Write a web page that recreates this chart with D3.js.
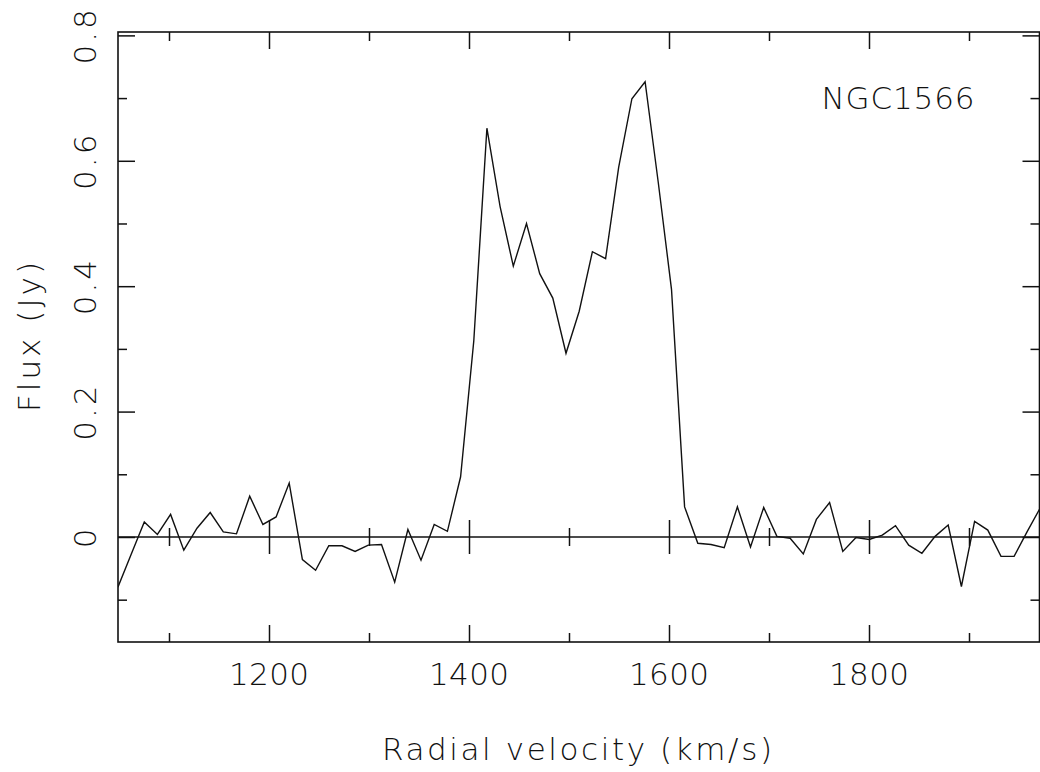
<!DOCTYPE html>
<html>
<head>
<meta charset="utf-8">
<script src="https://cdn.jsdelivr.net/npm/d3@7"></script>
<style>
  body { margin: 0; background: #fff; }
  svg text { font-family: "DejaVu Sans", "Liberation Sans", sans-serif; font-weight: 200; fill: #111; }
</style>
</head>
<body>
<div id="chart"></div>
<script>

// channel velocities (km/s)
const velocity = [
  1048.9, 1062.1, 1075.3, 1088.4, 1101.6, 1114.8, 1128.0, 1141.2, 1154.3, 1167.5,
  1180.7, 1193.9, 1207.1, 1220.2, 1233.4, 1246.6, 1259.8, 1273.0, 1286.1, 1299.3,
  1312.5, 1325.7, 1338.9, 1352.0, 1365.2, 1378.4, 1391.6, 1404.8, 1417.9, 1431.1,
  1444.3, 1457.5, 1470.7, 1483.8, 1497.0, 1510.2, 1523.4, 1536.6, 1549.7, 1562.9,
  1576.1, 1589.3, 1602.5, 1615.6, 1628.8, 1642.0, 1655.2, 1668.4, 1681.5, 1694.7,
  1707.9, 1721.1, 1734.3, 1747.4, 1760.6, 1773.8, 1787.0, 1800.2, 1813.3, 1826.5,
  1839.7, 1852.9, 1866.1, 1879.2, 1892.4, 1905.6, 1918.8, 1932.0, 1945.1, 1958.3,
  1971.5
];

// flux density (Jy)
const flux = [
  -0.080, -0.028, 0.024, 0.004, 0.036, -0.021, 0.014, 0.039, 0.008, 0.005,
  0.065, 0.020, 0.032, 0.086, -0.036, -0.053, -0.014, -0.014, -0.023, -0.013,
  -0.012, -0.072, 0.012, -0.037, 0.020, 0.009, 0.096, 0.313, 0.652, 0.527,
  0.432, 0.500, 0.420, 0.381, 0.293, 0.360, 0.455, 0.444, 0.590, 0.699,
  0.726, 0.565, 0.395, 0.048, -0.010, -0.012, -0.017, 0.048, -0.016, 0.047,
  0.001, -0.002, -0.027, 0.028, 0.055, -0.023, -0.001, -0.004, 0.003, 0.018,
  -0.013, -0.026, 0.001, 0.019, -0.079, 0.025, 0.011, -0.031, -0.031, 0.009,
  0.047
];

const xMajor = [1200, 1400, 1600, 1800];
const xMinor = [1100, 1300, 1500, 1700, 1900];
const yMajor = [0, 0.2, 0.4, 0.6, 0.8];
const yMinor = [-0.1, 0.1, 0.3, 0.5, 0.7];

const objectName = "NGC1566";
const xTitle = "Radial velocity (km/s)";
const yTitle = "Flux (Jy)";

const width = 1040, height = 772;
const margin = {left: 118, right: 0.5, top: 32, bottom: 130};

const data = velocity.map((v, i) => ({v: v, f: flux[i]}));

let svg = d3.select("#chart")
  .append("svg")
  .attr("width", width)
  .attr("height", height);

let xScale = d3.scaleLinear()
  .domain([1049, 1970.5])
  .range([margin.left, width - margin.right]);

let yScale = d3.scaleLinear()
  .domain([-0.1675, 0.8054])
  .range([height - margin.bottom, margin.top]);

const x0 = xScale.range()[0], x1 = xScale.range()[1];
const y0 = yScale.range()[0], y1 = yScale.range()[1];

// clip for the spectrum
svg.append("clipPath").attr("id", "clip")
  .append("rect")
  .attr("x", x0).attr("y", y1)
  .attr("width", x1 - x0).attr("height", y0 - y1);

// ticks, all pointing inwards
function ticks(axis, vals, size, transform) {
  let g = svg.append("g")
    .attr("transform", transform)
    .call(axis.tickValues(vals).tickSize(size).tickFormat(""));
  g.select(".domain").remove();
  g.selectAll("line").attr("stroke", "#111").attr("stroke-width", 1.5);
  return g;
}

ticks(d3.axisBottom(xScale), xMajor, -17, `translate(0,${y0})`);
ticks(d3.axisBottom(xScale), xMinor, -9, `translate(0,${y0})`);
ticks(d3.axisTop(xScale), xMajor, -17, `translate(0,${y1})`);
ticks(d3.axisTop(xScale), xMinor, -9, `translate(0,${y1})`);
ticks(d3.axisLeft(yScale), yMajor, -17, `translate(${x0},0)`);
ticks(d3.axisLeft(yScale), yMinor, -9, `translate(${x0},0)`);
ticks(d3.axisRight(yScale), yMajor, -17, `translate(${x1},0)`);
ticks(d3.axisRight(yScale), yMinor, -9, `translate(${x1},0)`);

// zero line with crossing ticks
const yz = yScale(0);
svg.append("line")
  .attr("x1", x0).attr("x2", x1)
  .attr("y1", yz).attr("y2", yz)
  .attr("stroke", "#111").attr("stroke-width", 1.5);
ticks(d3.axisBottom(xScale), xMajor, 17, `translate(0,${yz})`);
ticks(d3.axisBottom(xScale), xMajor, -17, `translate(0,${yz})`);
ticks(d3.axisBottom(xScale), xMinor, 9, `translate(0,${yz})`);
ticks(d3.axisBottom(xScale), xMinor, -9, `translate(0,${yz})`);

// frame
svg.append("rect")
  .attr("x", x0).attr("y", y1)
  .attr("width", x1 - x0).attr("height", y0 - y1)
  .attr("fill", "none")
  .attr("stroke", "#111")
  .attr("stroke-width", 1.6);

// x tick labels
svg.selectAll(".xlab")
  .data(xMajor)
  .enter()
  .append("text")
    .attr("class", "xlab")
    .attr("x", d => xScale(d))
    .attr("y", 685)
    .attr("text-anchor", "middle")
    .attr("font-size", "31px")
    .attr("textLength", 80)
    .attr("lengthAdjust", "spacing")
    .text(d => d);

// y tick labels, rotated
svg.selectAll(".ylab")
  .data(yMajor)
  .enter()
  .append("text")
    .attr("class", "ylab")
    .attr("transform", d => `translate(96,${yScale(d)}) rotate(-90)`)
    .attr("text-anchor", "middle")
    .attr("font-size", "31px")
    .attr("letter-spacing", "3px")
    .text(d => d === 0 ? "0" : d.toFixed(1));

// axis titles
svg.append("text")
  .attr("x", 577)
  .attr("y", 760)
  .attr("text-anchor", "middle")
  .attr("font-size", "31px")
  .attr("textLength", 390)
  .attr("lengthAdjust", "spacing")
  .text(xTitle);

svg.append("text")
  .attr("transform", `translate(40,${(y0 + y1) / 2}) rotate(-90)`)
  .attr("text-anchor", "middle")
  .attr("font-size", "31px")
  .attr("textLength", 150)
  .attr("lengthAdjust", "spacing")
  .text(yTitle);

// object name
svg.append("text")
  .attr("x", 898)
  .attr("y", 109)
  .attr("text-anchor", "middle")
  .attr("font-size", "31px")
  .attr("textLength", 153)
  .attr("lengthAdjust", "spacing")
  .text(objectName);

// spectrum
let line = d3.line()
  .x(d => xScale(d.v))
  .y(d => yScale(d.f));

svg.append("path")
  .datum(data)
  .attr("clip-path", "url(#clip)")
  .attr("fill", "none")
  .attr("stroke", "#111")
  .attr("stroke-width", 1.4)
  .attr("d", line);

</script>
</body>
</html>
